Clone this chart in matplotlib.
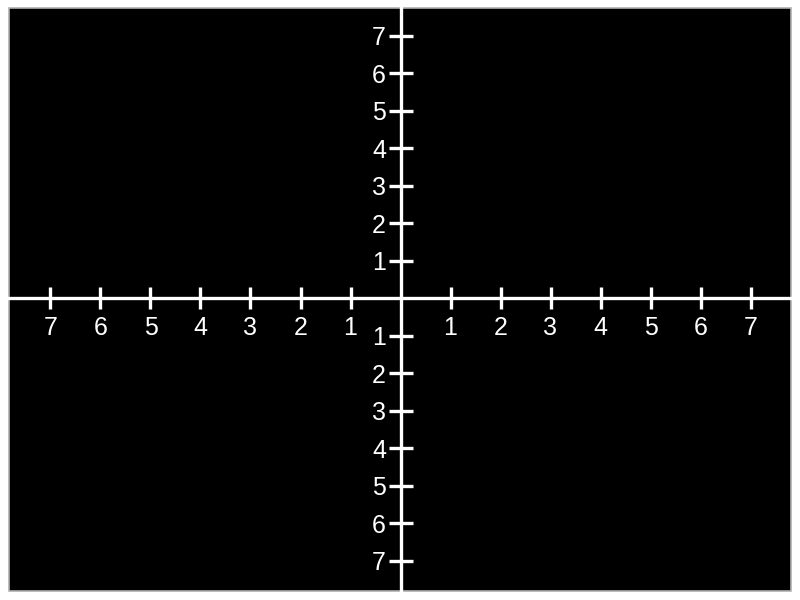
import numpy as np
import matplotlib.pyplot as plt
from matplotlib.patches import Rectangle

# tick values on each axis (labels shown without sign)
x_ticks = [-7, -6, -5, -4, -3, -2, -1, 1, 2, 3, 4, 5, 6, 7]
y_ticks = [-7, -6, -5, -4, -3, -2, -1, 1, 2, 3, 4, 5, 6, 7]
x_labels = [str(abs(v)) for v in x_ticks]
y_labels = [str(abs(v)) for v in y_ticks]

plt.rcParams['font.family'] = ['Liberation Sans', 'DejaVu Sans']

fig = plt.figure(figsize=(8, 6), dpi=100, facecolor='white')
ax = fig.add_axes([8.5 / 800, 9 / 600, 782.5 / 800, 582.7 / 600])
ax.set_facecolor('black')

ax.set_xlim(-7.84, 7.81)
ax.set_ylim(-7.81, 7.73)

for side in ['top', 'right']:
    ax.spines[side].set_visible(False)
for side in ['left', 'bottom']:
    ax.spines[side].set_position('zero')
    ax.spines[side].set_color('white')
    ax.spines[side].set_linewidth(2.4)
    ax.spines[side].set_zorder(3)

ax.set_xticks(x_ticks)
ax.set_xticklabels(x_labels)
ax.set_yticks(y_ticks)
ax.set_yticklabels(y_labels)
ax.tick_params(axis='x', direction='inout', length=16, width=2.4, color='white',
               labelcolor='white', labelsize=18, pad=5)
ax.tick_params(axis='y', direction='inout', length=17, width=2.4, color='white',
               labelcolor='white', labelsize=18, pad=2)

# thin grey frame round the black area
ax.add_patch(Rectangle((0, 0), 1, 1, transform=ax.transAxes, fill=False,
                       edgecolor='#b0b0b0', linewidth=1.2, clip_on=False))

fig.savefig('out.png', dpi=100, facecolor='white')
